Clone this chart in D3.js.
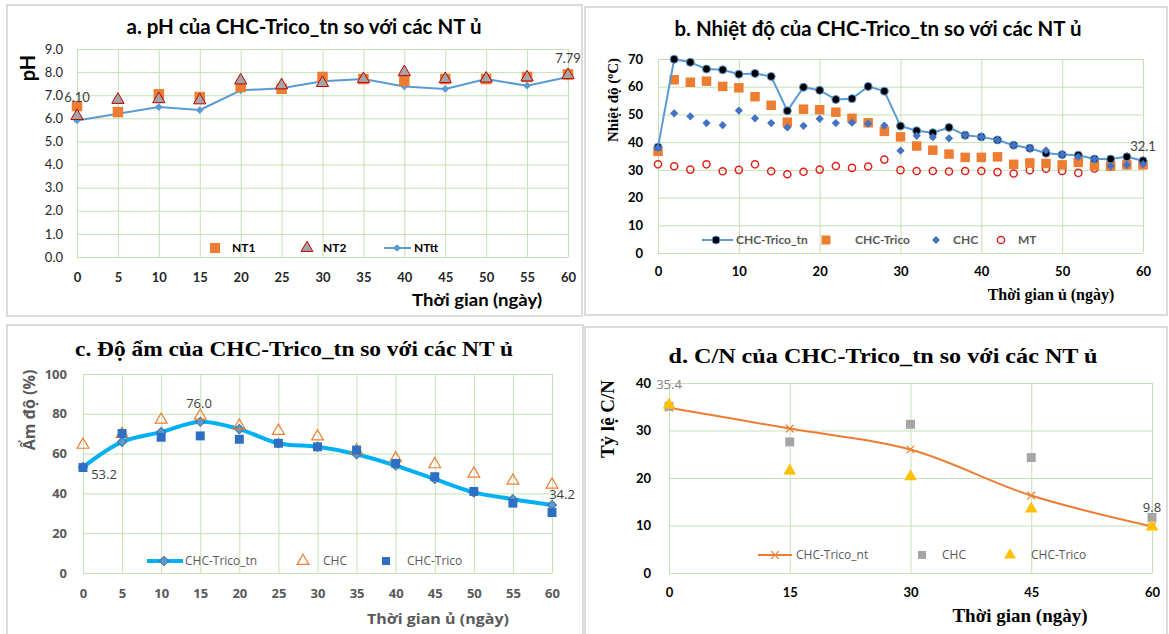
<!DOCTYPE html>
<html>
<head>
<meta charset="utf-8">
<script src="https://cdn.jsdelivr.net/npm/d3@7"></script>
<style>
  body { margin: 0; background: #fff; }
</style>
</head>
<body>
<svg id="chart" width="1169" height="634"></svg>
<script>
// ---- a. pH ----
const phDays = [0, 5, 10, 15, 20, 25, 30, 35, 40, 45, 50, 55, 60];
const phNT1 = [6.53, 6.27, 7.04, 6.92, 7.36, 7.28, 7.79, 7.70, 7.62, 7.70, 7.70, 7.79, 7.90];
const phNT2 = [6.10, 6.80, 6.83, 6.78, 7.64, 7.43, 7.53, 7.70, 8.00, 7.70, 7.72, 7.77, 7.87];
const phNTtt = [5.91, 6.20, 6.49, 6.36, 7.21, 7.30, 7.60, 7.70, 7.38, 7.27, 7.70, 7.41, 7.79];
const phTicks = [0, 1, 2, 3, 4, 5, 6, 7, 8, 9];

// ---- b. temperature ----
const tempDays = [0, 2, 4, 6, 8, 10, 12, 14, 16, 18, 20, 22, 24, 26, 28, 30,
  32, 34, 36, 38, 40, 42, 44, 46, 48, 50, 52, 54, 56, 58, 60];
const tempTn = [38.2, 69.9, 68.8, 66.4, 66.1, 64.5, 64.8, 63.7, 51.3, 59.8, 58.7, 55.4, 55.7, 60.1, 58.4, 45.8,
  44.1, 43.4, 45.3, 42.5, 41.9, 40.8, 38.9, 37.8, 36.0, 35.5, 35.3, 33.9, 33.9, 34.7, 33.3];
const tempTrico = [36.7, 62.5, 61.6, 62.0, 60.1, 59.6, 56.4, 53.3, 47.2, 51.9, 51.7, 50.8, 48.6, 47.0, 43.9, 41.9,
  38.6, 37.1, 35.7, 34.5, 34.5, 34.7, 32.0, 32.5, 32.3, 31.8, 32.7, 31.6, 31.4, 31.8, 31.8];
const tempCHC = [38.0, 50.4, 49.3, 46.9, 46.1, 51.4, 48.6, 46.9, 45.3, 45.9, 48.4, 46.9, 47.0, 46.7, 46.0, 36.9,
  42.3, 41.8, 41.4, 42.5, 41.9, 40.8, 38.9, 37.8, 37.0, 35.5, 34.7, 33.9, 31.4, 31.8, 32.1];
const tempMT = [32.0, 31.3, 30.1, 32.0, 29.5, 30.0, 32.0, 29.5, 28.4, 29.3, 30.1, 31.4, 30.7, 31.2, 33.7, 29.9,
  29.6, 29.6, 29.4, 29.6, 29.6, 29.2, 28.7, 29.9, 30.4, 29.6, 28.9, 30.5, 31.1, 31.8, 32.0];
const tempXTicks = [0, 10, 20, 30, 40, 50, 60];
const tempYTicks = [0, 10, 20, 30, 40, 50, 60, 70];

// ---- c. moisture ----
const moistDays = [0, 5, 10, 15, 20, 25, 30, 35, 40, 45, 50, 55, 60];
const moistTn = [53.2, 65.9, 70.8, 76.0, 72.3, 65.2, 63.4, 59.7, 54.0, 47.2, 40.5, 37.1, 34.2];
const moistCHC = [64.4, 69.8, 77.0, 79.0, 74.0, 71.4, 68.6, 61.6, 57.6, 54.6, 49.9, 46.4, 44.4];
const moistTrico = [53.0, 70.1, 68.2, 68.9, 67.2, 65.2, 63.4, 61.8, 55.1, 48.4, 41.0, 35.1, 30.4];
const moistYTicks = [0, 20, 40, 60, 80, 100];

// ---- d. C/N ----
const cnDays = [0, 15, 30, 45, 60];
const cnTn = [34.8, 30.4, 26.0, 16.3, 9.8];
const cnCHC = [35.1, 27.6, 31.3, 24.3, 11.7];
const cnTrico = [35.4, 21.5, 20.3, 13.5, 9.7];
const cnYTicks = [0, 10, 20, 30, 40];

const SANS = "Lato, 'Open Sans', sans-serif";
const OPEN = "'Open Sans', Lato, sans-serif";
const SERIF = "'Liberation Serif', 'DejaVu Serif', serif";
const GRID = "#c6e0b4";

const svg = d3.select("#chart");

function zip(xs, ys) { return xs.map((d, i) => [d, ys[i]]); }

// frame + scales + gridlines + tick labels
function panel(box, plot, xDomain, yDomain, xTicks, yTicks, yFmt, tickStyle) {
  svg.append("rect")
    .attr("x", box[0]).attr("y", box[1])
    .attr("width", box[2] - box[0]).attr("height", box[3] - box[1])
    .attr("fill", "#fff").attr("stroke", "#d0d0d0").attr("stroke-width", 1.5);

  const x = d3.scaleLinear().domain(xDomain).range([plot.x0, plot.x1]);
  const y = d3.scaleLinear().domain(yDomain).range([plot.y1, plot.y0]);

  const yAxis = svg.append("g")
    .attr("transform", `translate(${plot.x0},0)`)
    .call(d3.axisLeft(y).tickValues(yTicks).tickFormat(yFmt)
      .tickSize(-(plot.x1 - plot.x0)).tickPadding(tickStyle.yPad));
  const xAxis = svg.append("g")
    .attr("transform", `translate(0,${plot.y1})`)
    .call(d3.axisBottom(x).tickValues(xTicks).tickFormat(d3.format("d"))
      .tickSize(-(plot.y1 - plot.y0)).tickPadding(tickStyle.xPad));

  [yAxis, xAxis].forEach(a => {
    a.select(".domain").remove();
    a.selectAll(".tick line").attr("stroke", GRID).attr("stroke-width", 1);
  });
  yAxis.selectAll("text")
    .attr("font-family", tickStyle.font).attr("font-size", tickStyle.size)
    .attr("font-weight", tickStyle.yWeight).attr("fill", tickStyle.color);
  xAxis.selectAll("text")
    .attr("font-family", tickStyle.font).attr("font-size", tickStyle.size)
    .attr("font-weight", "bold").attr("fill", tickStyle.color);

  return { x, y, g: svg.append("g") };
}

function marker(g, pts, x, y, type, size, fill, stroke, sw, rot) {
  g.append("g").selectAll("path")
    .data(pts)
    .join("path")
    .attr("d", d3.symbol().type(type).size(size))
    .attr("transform", d => `translate(${x(d[0])},${y(d[1])}) rotate(${rot || 0})`)
    .attr("fill", fill)
    .attr("stroke", stroke || "none")
    .attr("stroke-width", sw || 0);
}

function line(g, pts, x, y, color, width, curve) {
  g.append("path")
    .datum(pts)
    .attr("fill", "none")
    .attr("stroke", color)
    .attr("stroke-width", width)
    .attr("stroke-linejoin", "round")
    .attr("d", d3.line().x(d => x(d[0])).y(d => y(d[1])).curve(curve || d3.curveLinear));
}

function text(x, y, str, opts) {
  const t = svg.append("text")
    .attr("x", x).attr("y", y)
    .attr("text-anchor", opts.anchor || "middle")
    .attr("font-family", opts.font || SANS)
    .attr("font-size", opts.size || 12)
    .attr("font-weight", opts.weight || "normal")
    .attr("fill", opts.color || "#000")
    .text(str);
  if (opts.len) t.attr("textLength", opts.len).attr("lengthAdjust", "spacingAndGlyphs");
  if (opts.rotate) t.attr("transform", `rotate(-90,${x},${y})`);
  return t;
}

// ================= a. pH =================
{
  const p = panel([7, 5, 582, 316], { x0: 77, x1: 568, y0: 49, y1: 257 },
    [0, 60], [0, 9], phDays, phTicks, d3.format(".1f"),
    { font: SANS, size: 13, yWeight: "normal", color: "#262626", yPad: 14, xPad: 16 });
  const { x, y, g } = p;

  line(g, zip(phDays, phNTtt), x, y, "#5b9bd5", 2);
  marker(g, zip(phDays, phNTtt), x, y, d3.symbolSquare, 30, "#5b9bd5", null, 0, 45);
  marker(g, zip(phDays, phNT1), x, y, d3.symbolSquare, 110, "#ed7d31");
  marker(g, zip(phDays, phNT2), x, y, d3.symbolTriangle, 65, "#a5a5a5", "#c00000", 1);

  text(x(0), 102, d3.format(".2f")(phNT2[0]), { size: 13, color: "#404040" });
  text(x(60), 63, d3.format(".2f")(phNTtt[12]), { size: 13, color: "#404040" });

  text(304, 34, "a. pH của CHC-Trico_tn so với các NT ủ", { size: 20, weight: "bold", len: 355 });
  text(35, 68, "pH", { size: 20, weight: "bold", rotate: true });
  text(477, 306, "Thời gian (ngày)", { size: 17, weight: "bold", len: 130 });

  // legend
  const ly = 248;
  svg.append("path").attr("d", d3.symbol().type(d3.symbolSquare).size(100))
    .attr("transform", `translate(215,${ly})`).attr("fill", "#ed7d31");
  text(232, ly + 4, "NT1", { anchor: "start", size: 12, weight: "bold" });
  svg.append("path").attr("d", d3.symbol().type(d3.symbolTriangle).size(60))
    .attr("transform", `translate(307,${ly})`).attr("fill", "#a5a5a5").attr("stroke", "#c00000");
  text(323, ly + 4, "NT2", { anchor: "start", size: 12, weight: "bold" });
  svg.append("line").attr("x1", 384).attr("x2", 411).attr("y1", ly).attr("y2", ly)
    .attr("stroke", "#5b9bd5").attr("stroke-width", 2);
  svg.append("path").attr("d", d3.symbol().type(d3.symbolSquare).size(30))
    .attr("transform", `translate(397,${ly}) rotate(45)`).attr("fill", "#5b9bd5");
  text(414, ly + 4, "NTtt", { anchor: "start", size: 12, weight: "bold" });
}

// ================= b. temperature =================
{
  const p = panel([585, 7, 1167, 315], { x0: 658, x1: 1143, y0: 59, y1: 253 },
    [0, 60], [0, 70], tempXTicks, tempYTicks, d3.format("d"),
    { font: SANS, size: 13, yWeight: "bold", color: "#000", yPad: 15, xPad: 14 });
  const { x, y, g } = p;

  marker(g, zip(tempDays, tempMT), x, y, d3.symbolCircle, 40, "none", "#e02020", 1.5);
  marker(g, zip(tempDays, tempTrico), x, y, d3.symbolSquare, 90, "#ed7d31");
  line(g, zip(tempDays, tempTn), x, y, "#5b9bd5", 2);
  marker(g, zip(tempDays, tempTn), x, y, d3.symbolCircle, 50, "#000", "#5b9bd5", 1);
  marker(g, zip(tempDays, tempCHC), x, y, d3.symbolSquare, 34, "#4472c4", null, 0, 45);

  text(x(60), 151, d3.format(".1f")(tempCHC[30]), { size: 13, color: "#404040" });

  text(878, 36, "b. Nhiệt độ của CHC-Trico_tn so với các NT ủ", { size: 20, weight: "bold", len: 407 });
  const yt = text(618, 100, "Nhiệt độ (", { font: SERIF, size: 15, weight: "bold", rotate: true });
  yt.append("tspan").attr("font-size", 10).attr("dy", -5).text("o");
  yt.append("tspan").attr("dy", 5).text("C)");
  text(1051, 300, "Thời gian ủ (ngày)", { font: SERIF, size: 16, weight: "bold" });

  const ly = 240;
  svg.append("line").attr("x1", 702).attr("x2", 733).attr("y1", ly).attr("y2", ly)
    .attr("stroke", "#5b9bd5").attr("stroke-width", 2);
  svg.append("circle").attr("cx", 716).attr("cy", ly).attr("r", 4)
    .attr("fill", "#000").attr("stroke", "#5b9bd5");
  text(736, ly + 4, "CHC-Trico_tn", { anchor: "start", size: 12, weight: "bold", color: "#595959" });
  svg.append("path").attr("d", d3.symbol().type(d3.symbolSquare).size(80))
    .attr("transform", `translate(826,${ly})`).attr("fill", "#ed7d31");
  text(855, ly + 4, "CHC-Trico", { anchor: "start", size: 12, weight: "bold", color: "#595959" });
  svg.append("path").attr("d", d3.symbol().type(d3.symbolSquare).size(34))
    .attr("transform", `translate(936,${ly}) rotate(45)`).attr("fill", "#4472c4");
  text(953, ly + 4, "CHC", { anchor: "start", size: 12, weight: "bold", color: "#595959" });
  svg.append("circle").attr("cx", 1001).attr("cy", ly).attr("r", 3.6)
    .attr("fill", "none").attr("stroke", "#e02020").attr("stroke-width", 1.5);
  text(1018, ly + 4, "MT", { anchor: "start", size: 12, weight: "bold", color: "#595959" });
}

// ================= c. moisture =================
{
  const p = panel([7, 325, 583, 640], { x0: 83, x1: 552, y0: 374, y1: 573 },
    [0, 60], [0, 100], moistDays, moistYTicks, d3.format("d"),
    { font: OPEN, size: 13, yWeight: "bold", color: "#595959", yPad: 16, xPad: 16 });
  const { x, y, g } = p;

  line(g, zip(moistDays, moistTn), x, y, "#00b0f0", 4, d3.curveCatmullRom);
  marker(g, zip(moistDays, moistTn), x, y, d3.symbolSquare, 42, "#5b9bd5", "#41719c", 1, 45);
  marker(g, zip(moistDays, moistCHC), x, y, d3.symbolTriangle, 60, "none", "#ed7d31", 1.2);
  marker(g, zip(moistDays, moistTrico), x, y, d3.symbolSquare, 80, "#2e6fc4");

  text(104, 479, d3.format(".1f")(moistTn[0]), { font: OPEN, size: 13, color: "#404040" });
  text(199, 408, d3.format(".1f")(moistTn[3]), { font: OPEN, size: 13, color: "#404040" });
  text(562, 499, d3.format(".1f")(moistTn[12]), { font: OPEN, size: 13, color: "#404040" });

  text(294, 356, "c. Độ ẩm của CHC-Trico_tn so với các NT ủ", { font: SERIF, size: 21, weight: "bold", len: 438 });
  text(35, 410, "Ẩm độ (%)", { font: OPEN, size: 16, weight: "bold", color: "#595959", rotate: true });
  text(438, 624, "Thời gian ủ (ngày)", { font: OPEN, size: 15, weight: "bold", color: "#595959", len: 142 });

  const ly = 561;
  svg.append("line").attr("x1", 147).attr("x2", 183).attr("y1", ly).attr("y2", ly)
    .attr("stroke", "#00b0f0").attr("stroke-width", 4);
  svg.append("path").attr("d", d3.symbol().type(d3.symbolSquare).size(42))
    .attr("transform", `translate(164,${ly}) rotate(45)`).attr("fill", "#5b9bd5").attr("stroke", "#41719c");
  text(185, ly + 4, "CHC-Trico_tn", { anchor: "start", font: OPEN, size: 12, color: "#595959" });
  svg.append("path").attr("d", d3.symbol().type(d3.symbolTriangle).size(60))
    .attr("transform", `translate(303,${ly})`).attr("fill", "none").attr("stroke", "#ed7d31").attr("stroke-width", 1.2);
  text(323, ly + 4, "CHC", { anchor: "start", font: OPEN, size: 12, color: "#595959" });
  svg.append("path").attr("d", d3.symbol().type(d3.symbolSquare).size(64))
    .attr("transform", `translate(386,${ly})`).attr("fill", "#2e6fc4");
  text(407, ly + 4, "CHC-Trico", { anchor: "start", font: OPEN, size: 12, color: "#595959" });
}

// ================= d. C/N =================
{
  const p = panel([585, 327, 1167, 640], { x0: 669, x1: 1152, y0: 383, y1: 573 },
    [0, 60], [0, 40], cnDays, cnYTicks, d3.format("d"),
    { font: SANS, size: 13, yWeight: "bold", color: "#000", yPad: 18, xPad: 15 });
  const { x, y, g } = p;

  line(g, zip(cnDays, cnTn), x, y, "#ed7d31", 2, d3.curveCatmullRom);
  marker(g, zip(cnDays, cnTn), x, y, d3.symbolX, 40, "none", "#ed7d31", 1.2);
  marker(g, zip(cnDays, cnCHC), x, y, d3.symbolSquare, 80, "#a5a5a5");
  marker(g, zip(cnDays, cnTrico), x, y, d3.symbolTriangle, 70, "#ffc000");

  text(669, 389, d3.format(".1f")(cnTrico[0]), { font: OPEN, size: 13, color: "#7f7f7f" });
  text(1152, 512, d3.format(".1f")(cnTn[4]), { font: OPEN, size: 13, color: "#404040" });

  text(883, 363, "d. C/N của CHC-Trico_tn so với các NT ủ", { font: SERIF, size: 21, weight: "bold", len: 429 });
  text(614, 419, "Tỷ lệ C/N", { font: SERIF, size: 19, weight: "bold", rotate: true });
  text(1020, 622, "Thời gian (ngày)", { font: SERIF, size: 19, weight: "bold" });

  const ly = 555;
  svg.append("line").attr("x1", 758).attr("x2", 792).attr("y1", ly).attr("y2", ly)
    .attr("stroke", "#ed7d31").attr("stroke-width", 2);
  svg.append("path").attr("d", d3.symbol().type(d3.symbolX).size(40))
    .attr("transform", `translate(775,${ly})`).attr("fill", "none").attr("stroke", "#ed7d31").attr("stroke-width", 1.2);
  text(796, ly + 4, "CHC-Trico_nt", { anchor: "start", font: OPEN, size: 12, color: "#595959" });
  svg.append("path").attr("d", d3.symbol().type(d3.symbolSquare).size(64))
    .attr("transform", `translate(922,${ly})`).attr("fill", "#a5a5a5");
  text(942, ly + 4, "CHC", { anchor: "start", font: OPEN, size: 12, color: "#595959" });
  svg.append("path").attr("d", d3.symbol().type(d3.symbolTriangle).size(60))
    .attr("transform", `translate(1010,${ly})`).attr("fill", "#ffc000");
  text(1031, ly + 4, "CHC-Trico", { anchor: "start", font: OPEN, size: 12, color: "#595959" });
}
</script>
</body>
</html>
